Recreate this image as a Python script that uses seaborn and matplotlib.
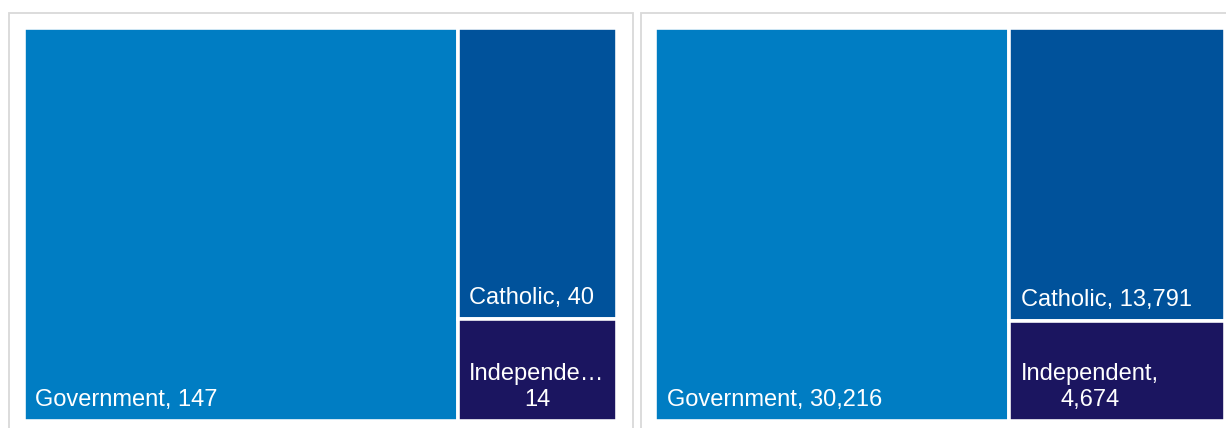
import matplotlib
matplotlib.use("Agg")
import matplotlib.pyplot as plt
import seaborn as sns
from matplotlib.patches import Rectangle

# School sector breakdown: number of schools and number of students
categories = ["Government", "Catholic", "Independent"]
schools = [147, 40, 14]
students = [30216, 13791, 4674]
sector_colors = ["#007DC3", "#00529B", "#1B1560"]

sns.set_theme(style="white")
plt.rcParams["font.family"] = ["Liberation Sans", "DejaVu Sans"]

W, H = 1226, 428
DPI = 100
fig = plt.figure(figsize=(W / DPI, H / DPI), dpi=DPI)
fig.patch.set_facecolor("white")
PT = 72 / DPI  # points per pixel
FONT = 17
EDGE_PX = 3.6


def fbox(x0, y0, x1, y1):
    """Pixel box (top-left origin) -> figure-fraction rect."""
    return [x0 / W, 1 - y1 / H, (x1 - x0) / W, (y1 - y0) / H]


def panel_border(x0, y0, x1, y1):
    fig.add_artist(Rectangle((x0 / W, 1 - y1 / H), (x1 - x0) / W, (y1 - y0) / H,
                             transform=fig.transFigure, fill=False,
                             edgecolor="#d9d9d9", linewidth=1.3, clip_on=False))


def layout(values):
    """First item takes a full-height column; the rest stack in the remaining column."""
    total = sum(values)
    w0 = values[0] / total
    rects = [(0.0, 0.0, w0, 1.0)]
    rest = sum(values[1:])
    y = 0.0
    for v in values[1:]:
        h = v / rest
        rects.append((w0, y, 1.0 - w0, h))
        y += h
    return rects


renderer = fig.canvas.get_renderer()


def text_width(s):
    t = fig.text(0, 0, s, fontsize=FONT)
    w = t.get_window_extent(renderer).width
    t.remove()
    return w


def fit_line(s, avail):
    if text_width(s) <= avail:
        return s
    while len(s) > 1:
        s = s[:-1]
        cand = s.rstrip(" ,") + "\u2026"
        if text_width(cand) <= avail:
            return cand
    return s


def draw_treemap(box, values):
    ax = fig.add_axes(fbox(*box))
    ax.set_xlim(0, 1)
    ax.set_ylim(1, 0)
    ax.axis("off")
    ax_w = box[2] - box[0]
    for name, v, c, (x, y, w, h) in zip(categories, values, sector_colors, layout(values)):
        ax.add_patch(Rectangle((x, y), w, h, facecolor=c, edgecolor="white",
                               linewidth=EDGE_PX * PT))
        avail = w * ax_w - EDGE_PX - 19
        label = f"{name}, {v:,}"
        if text_width(label) > avail:
            label = "\n".join([fit_line(f"{name},", avail), fit_line(f"{v:,}", avail)])
        ax.annotate(label, xy=(x, y + h), xycoords="data",
                    xytext=((EDGE_PX / 2 + 10) * PT, (EDGE_PX / 2 + 8) * PT),
                    textcoords="offset points", ha="left", va="bottom",
                    multialignment="center", linespacing=1.22,
                    color="white", fontsize=FONT)


panel_border(8.5, 12.5, 632.5, 460)
panel_border(640.5, 12.5, 1260, 460)

draw_treemap((23.5, 27.5, 617, 420.5), schools)
draw_treemap((655.5, 27.5, 1225, 420.5), students)

fig.savefig("out.png", dpi=DPI, facecolor="white")
